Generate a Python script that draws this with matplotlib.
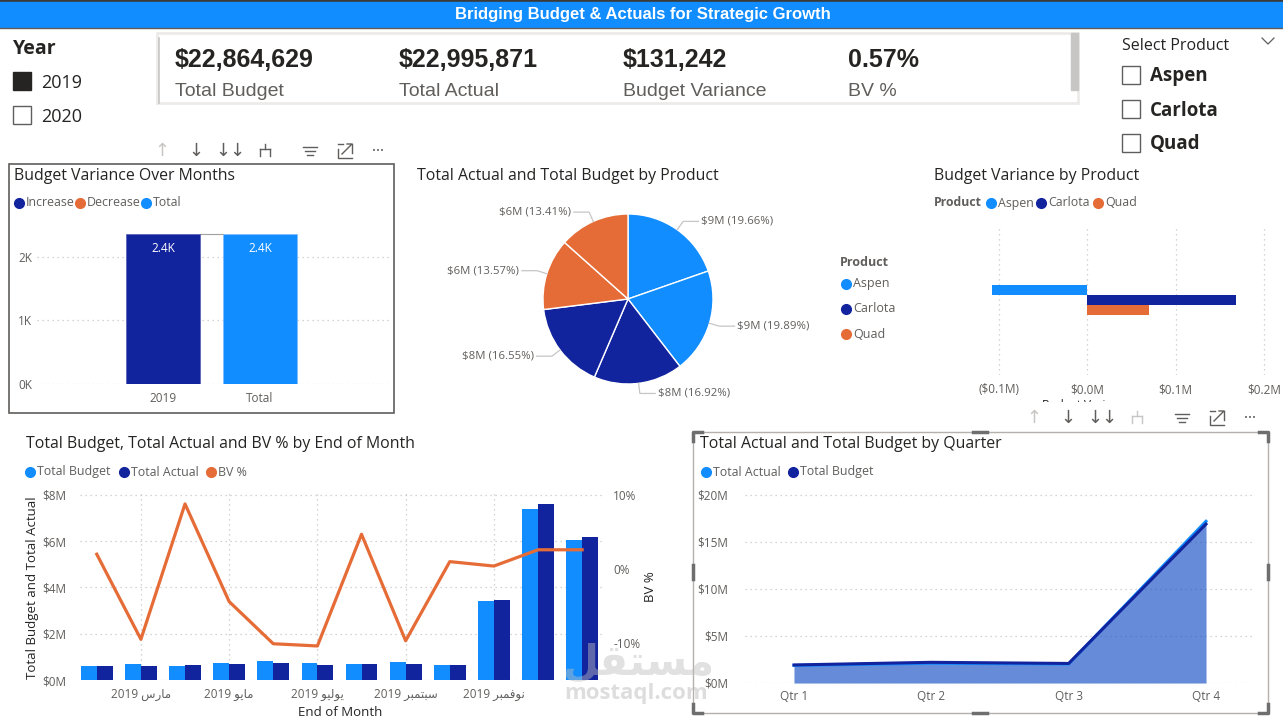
import matplotlib.pyplot as plt
import matplotlib.patches as mpatches
import numpy as np

W, H = 1283, 723

LIGHT = '#118DFF'
NAVY = '#12239E'
ORANGE = '#E66C37'
GREY = '#605E5C'
DARK = '#252423'
GRID = '#C8C6C4'

BODY = ['Open Sans', 'DejaVu Sans']
NARROW = ['Liberation Sans', 'DejaVu Sans']

# ---------------- data ----------------
kpi_values = ['$22,864,629', '$22,995,871', '$131,242', '0.57%']
kpi_labels = ['Total Budget', 'Total Actual', 'Budget Variance', 'BV %']
years = ['2019', '2020']
products = ['Aspen', 'Carlota', 'Quad']

# waterfall (budget variance over months)
wf_categories = ['2019', 'Total']
wf_values = [2360, 2360]
wf_labels = ['2.4K', '2.4K']

# pie: actual and budget by product
pie_products = ['Aspen', 'Aspen', 'Carlota', 'Carlota', 'Quad', 'Quad']
pie_pct = [19.66, 19.89, 16.92, 16.55, 13.57, 13.41]
pie_money = ['$9M', '$9M', '$8M', '$8M', '$6M', '$6M']

# budget variance by product ($)
bv_product = [-107000, 168000, 70000]

# monthly (values in $M, BV in %)
month_budget = [0.62, 0.69, 0.60, 0.72, 0.81, 0.72, 0.69, 0.76, 0.63, 3.42, 7.40, 6.07]
month_actual = [0.62, 0.59, 0.66, 0.69, 0.72, 0.63, 0.69, 0.69, 0.63, 3.44, 7.60, 6.20]
month_bv = [2.0, -9.5, 8.8, -4.4, -10.1, -10.4, 4.7, -9.7, 1.0, 0.4, 2.6, 2.6]
# Arabic month names written in presentation forms, visual order (no shaping in matplotlib)
month_ticks = [1, 3, 5, 7, 9]
month_tick_labels = ['2019 \uFEB1\uFEAD\uFE8E\uFEE3',              # مارس
                     '2019 \uFEEE\uFEF3\uFE8E\uFEE3',              # مايو
                     '2019 \uFEEE\uFEF4\uFEDF\uFEEE\uFEF3',        # يوليو
                     '2019 \uFEAE\uFE92\uFEE4\uFE98\uFE92\uFEB3',  # سبتمبر
                     '2019 \uFEAE\uFE92\uFEE4\uFED3\uFEEE\uFEE7']  # نوفمبر

# quarterly ($M)
quarters = ['Qtr 1', 'Qtr 2', 'Qtr 3', 'Qtr 4']
q_actual = [1.87, 2.10, 2.02, 17.2]
q_budget = [1.92, 2.20, 2.08, 16.9]


def box(x0, y0, x1, y1):
    return [x0 / W, 1 - y1 / H, (x1 - x0) / W, (y1 - y0) / H]


def style_axis(ax):
    for s in ax.spines.values():
        s.set_visible(False)
    ax.set_facecolor('none')
    ax.tick_params(length=0, colors=GREY, labelsize=8.5)
    for lab in ax.get_xticklabels() + ax.get_yticklabels():
        lab.set_family(BODY)


fig = plt.figure(figsize=(W / 100, H / 100), dpi=100)
fig.patch.set_facecolor('white')

# overlay in pixel coordinates for the dashboard furniture
ov = fig.add_axes([0, 0, 1, 1])
ov.set_xlim(0, W)
ov.set_ylim(H, 0)
ov.axis('off')

# header band
ov.add_patch(mpatches.Rectangle((0, 0), W, 2, color='#3B3A39'))
ov.add_patch(mpatches.Rectangle((0, 2), W, 25, color=LIGHT))
ov.plot([0, W], [27.5, 27.5], color='#605E5C', lw=1)
ov.text(643, 14, 'Bridging Budget & Actuals for Strategic Growth', color='white',
        fontsize=12, fontweight='bold', family=NARROW, ha='center', va='center')

# year slicer
ov.text(13, 49, 'Year', fontsize=14, fontweight='bold', family=BODY, color=DARK, va='center')
for i, yr in enumerate(years):
    yc = 81 + i * 34
    ov.add_patch(mpatches.Rectangle((13, yc - 9), 18, 18, facecolor=DARK if i == 0 else 'white',
                                    edgecolor=DARK if i == 0 else '#605E5C', lw=1))
    ov.text(41, yc + 1.5, yr, fontsize=13, family=BODY, color=DARK, va='center')

# KPI card
ov.add_patch(mpatches.Rectangle((157, 33), 921, 70, facecolor='white', edgecolor='#EDEBE9', lw=2))
ov.plot([158.5, 158.5], [38, 103], color='#C8C6C4', lw=1.2)
ov.add_patch(mpatches.Rectangle((1071, 33), 7, 57, color='#C8C6C4'))
for i, (v, lab) in enumerate(zip(kpi_values, kpi_labels)):
    x = [175, 399, 623, 848][i]
    ov.text(x, 60, v, fontsize=18, fontweight='bold', family=NARROW, color=DARK, va='center')
    ov.text(x, 91, lab, fontsize=14, family=NARROW, color=GREY, va='center')

# product slicer
ov.text(1122, 46, 'Select Product', fontsize=11.5, family=BODY, color=DARK, va='center')
ov.plot([1262, 1268, 1274], [38, 44, 38], color=GREY, lw=0.9)
for i, p in enumerate(products):
    yc = 75 + i * 34
    ov.add_patch(mpatches.Rectangle((1122, yc - 9), 18, 18, facecolor='white', edgecolor='#605E5C', lw=1))
    ov.text(1150, yc + 1.5, p, fontsize=13.5, fontweight='bold', family=BODY, color=DARK, va='center')


def icon_row(x0, y, fork_light=False):
    c_dis, c = '#C8C6C4', GREY
    ov.text(x0, y, '\u2191', fontsize=13, color=c_dis, ha='center', va='center', family='DejaVu Sans')
    ov.text(x0 + 34, y, '\u2193', fontsize=13, color=c, ha='center', va='center', family='DejaVu Sans')
    ov.text(x0 + 68, y, '\u2193\u2193', fontsize=13, color=c, ha='center', va='center', family='DejaVu Sans')
    fc = c_dis if fork_light else c
    fx = x0 + 103
    ov.plot([fx, fx], [y - 7, y - 2], color=fc, lw=1)
    ov.plot([fx - 5, fx + 5], [y - 2, y - 2], color=fc, lw=1)
    ov.plot([fx - 5, fx - 5], [y - 2, y + 5], color=fc, lw=1)
    ov.plot([fx + 5, fx + 5], [y - 2, y + 5], color=fc, lw=1)
    ox = x0 + 148
    for k, hw in enumerate([7, 5, 3]):
        ov.plot([ox - hw, ox + hw], [y - 4 + k * 4, y - 4 + k * 4], color=c, lw=1)
    ex = x0 + 183
    ov.plot([ex - 7, ex - 7, ex + 7], [y - 2, y + 7, y + 7], color=c, lw=1)
    ov.plot([ex - 2, ex - 7], [y - 7, y - 7], color=c, lw=1)
    ov.plot([ex + 7, ex + 7], [y + 2, y - 7], color=c, lw=1)
    ov.plot([ex - 3, ex + 7, ex + 2], [y + 3, y - 7, y - 7], color=c, lw=1)
    ov.text(x0 + 216, y, '\u2022\u2022\u2022', fontsize=5, color=c, ha='center', va='center')


icon_row(162, 151)
icon_row(1034, 418, fork_light=True)


def legend(items, y, xs, title=None, title_x=None):
    if title:
        ov.text(title_x, y, title, fontsize=8.8, fontweight='bold', family=BODY, color=GREY, va='center')
    for (lab, col), x in zip(items, xs):
        ov.plot(x, y, 'o', color=col, ms=7)
        ov.text(x + 7, y, lab, fontsize=8.9, family=BODY, color=GREY, va='center')


def title(x, y, text):
    ov.text(x, y + 1.5, text, fontsize=11.4, family=BODY, color=DARK, va='center')


# ---------------- waterfall ----------------
ov.add_patch(mpatches.Rectangle((9, 164), 385, 249, fill=False, edgecolor='#605E5C', lw=1.2))
title(14, 175, 'Budget Variance Over Months')
legend([('Increase', NAVY), ('Decrease', ORANGE), ('Total', LIGHT)], 203, [19, 80, 146])

ax = fig.add_axes(box(37, 225, 390, 384))
wx = np.arange(len(wf_categories))
ax.bar(wx, wf_values, width=0.76, color=[NAVY, LIGHT], edgecolor=['#5B66B8', '#7FBFFF'], lw=0.6, zorder=3)
ax.plot([wx[0] + 0.38, wx[1] - 0.38], [wf_values[0], wf_values[0]], color='#A0A0A0', lw=0.8, zorder=2)
for xi, v, lab in zip(wx, wf_values, wf_labels):
    ax.text(xi, v - 230, lab, color='white', fontsize=8.5, ha='center', va='center', family=BODY, zorder=4)
ax.set_xlim(-1.3, 2.34)
ax.set_ylim(0, 2500)
ax.set_yticks([0, 1000, 2000])
ax.set_yticklabels(['0K', '1K', '2K'])
ax.set_xticks(wx)
ax.set_xticklabels(wf_categories)
ax.yaxis.grid(True, color=GRID, ls=(0, (1, 3)), lw=0.9)
ax.set_axisbelow(True)
style_axis(ax)
ax.tick_params(axis='x', pad=6)

# ---------------- pie ----------------
title(417, 175, 'Total Actual and Total Budget by Product')
pie_colors = {'Aspen': LIGHT, 'Carlota': NAVY, 'Quad': ORANGE}
pax = fig.add_axes(box(543, 214, 713, 384))
wedges, _ = pax.pie(pie_pct, colors=[pie_colors[p] for p in pie_products], startangle=90,
                    counterclock=False, wedgeprops=dict(edgecolor='white', lw=1))
pax.set_xlim(-1, 1)
pax.set_ylim(-1, 1)
pax.set_aspect('equal')
for w, pct, m in zip(wedges, pie_pct, pie_money):
    ang = np.deg2rad((w.theta1 + w.theta2) / 2)
    c, s = np.cos(ang), np.sin(ang)
    sign = 1 if c >= 0 else -1
    p2 = (1.12 * c, 1.12 * s)
    p3 = (p2[0] + sign * 0.18, p2[1])
    pax.plot([c, p2[0], p3[0]], [s, p2[1], p3[1]], color='#C8C6C4', lw=0.9, clip_on=False)
    pax.text(p3[0] + sign * 0.03, p3[1], f'{m} ({pct:.2f}%)', fontsize=8.2, color=GREY, family=BODY,
             ha='left' if sign > 0 else 'right', va='center', clip_on=False)
ov.text(840, 262, 'Product', fontsize=9, fontweight='bold', family=BODY, color=GREY, va='center')
for i, p in enumerate(products):
    yy = 284 + i * 25
    ov.plot(846, yy, 'o', color=pie_colors[p], ms=7)
    ov.text(853, yy, p, fontsize=9, family=BODY, color=GREY, va='center')

# ---------------- budget variance by product ----------------
title(934, 175, 'Budget Variance by Product')
legend([(p, pie_colors[p]) for p in products], 203, [991, 1041, 1098], title='Product', title_x=934)
bax = fig.add_axes(box(975, 225, 1275, 375))
bh = 0.066
offs = np.array([1, 0, -1]) * bh
bax.barh(offs, bv_product, height=bh * 0.97, color=[pie_colors[p] for p in products], zorder=3)
bax.set_ylim(-0.5, 0.5)
bax.set_xlim(-126600, 212400)
bax.set_xticks([-100000, 0, 100000, 200000])
bax.set_xticklabels(['($0.1M)', '$0.0M', '$0.1M', '$0.2M'])
bax.set_yticks([])
bax.xaxis.grid(True, color=GRID, ls=(0, (1, 3)), lw=0.9)
bax.set_axisbelow(True)
style_axis(bax)
bax.tick_params(axis='x', pad=6)
# axis title is cut off by the visual's bottom edge in the original
t = ov.text(1087, 405, 'Budget Variance', fontsize=8.5, family=BODY, color=DARK, ha='center', va='center')
t.set_clip_path(mpatches.Rectangle((960, 380), 320, 22, transform=ov.transData))
t.set_clip_on(True)

# ---------------- monthly combo ----------------
title(26, 442, 'Total Budget, Total Actual and BV % by End of Month')
legend([('Total Budget', LIGHT), ('Total Actual', NAVY), ('BV %', ORANGE)], 472, [30, 124, 211])
max_ = fig.add_axes(box(80, 490, 602, 680))
mx = np.arange(len(month_budget))
bw = 0.36
max_.bar(mx - bw / 2, month_budget, bw, color=LIGHT, zorder=3)
max_.bar(mx + bw / 2, month_actual, bw, color=NAVY, zorder=3)
max_.set_xlim(-0.38, 11.45)
max_.set_ylim(0, 8.216)
max_.set_yticks([0, 2, 4, 6, 8])
max_.set_yticklabels(['$0M', '$2M', '$4M', '$6M', '$8M'])
max_.set_xticks(month_ticks)
max_.set_xticklabels(month_tick_labels)
max_.grid(True, color=GRID, ls=(0, (1, 3)), lw=0.9)
max_.set_axisbelow(True)
style_axis(max_)
max_.tick_params(axis='x', pad=6)
max_.tick_params(axis='y', pad=10)
mx2 = max_.twinx()
mx2.plot(mx, month_bv, color=ORANGE, lw=2.3, zorder=5)
mx2.set_ylim(-15.0, 10.68)
mx2.set_yticks([-10, 0, 10])
mx2.set_yticklabels(['-10%', '0%', '10%'])
style_axis(mx2)
mx2.tick_params(axis='y', pad=8)
ov.text(33, 588, 'Total Budget and Total Actual', rotation=90, fontsize=9.5, family=BODY, color=DARK,
        ha='center', va='center')
ov.text(651, 587, 'BV %', rotation=90, fontsize=9.5, family=BODY, color=DARK, ha='center', va='center')
ov.text(340, 712, 'End of Month', fontsize=9.5, family=BODY, color=DARK, ha='center', va='center')

# ---------------- quarterly area ----------------
ov.add_patch(mpatches.Rectangle((693, 432), 575, 281, fill=False, edgecolor='#B3B0AD', lw=1))
for (cx, cy, dx, dy) in [(693, 432, 1, 1), (1268, 432, -1, 1), (693, 713, 1, -1), (1268, 713, -1, -1)]:
    ov.plot([cx + dx * 9, cx, cx], [cy, cy, cy + dy * 9], color='#6E6E6E', lw=2.5)
for (cx, cy, horiz) in [(980, 432, True), (980, 713, True), (693, 572, False), (1268, 572, False)]:
    if horiz:
        ov.plot([cx - 7, cx + 7], [cy, cy], color='#6E6E6E', lw=2.5)
    else:
        ov.plot([cx, cx], [cy - 7, cy + 7], color='#6E6E6E', lw=2.5)
title(700, 442, 'Total Actual and Total Budget by Quarter')
legend([('Total Actual', LIGHT), ('Total Budget', NAVY)], 472, [706, 793])
qax = fig.add_axes(box(745, 488, 1255, 683))
qx = np.arange(len(quarters))
qa = np.array(q_actual) * 1e6
qb = np.array(q_budget) * 1e6
qax.fill_between(qx, qa, color=LIGHT, alpha=0.4, lw=0, zorder=2)
qax.fill_between(qx, qb, color=NAVY, alpha=0.4, lw=0, zorder=2)
qax.plot(qx, qa, color=LIGHT, lw=2.2, zorder=3)
qax.plot(qx, qb, color=NAVY, lw=2.2, zorder=4)
qax.set_xlim(-0.357, 3.357)
qax.set_ylim(0, 20.74e6)
qax.set_yticks([0, 5e6, 10e6, 15e6, 20e6])
qax.set_yticklabels(['$0M', '$5M', '$10M', '$15M', '$20M'])
qax.set_xticks(qx)
qax.set_xticklabels(quarters)
qax.yaxis.grid(True, color=GRID, ls=(0, (1, 3)), lw=0.9)
qax.set_axisbelow(True)
style_axis(qax)
qax.tick_params(axis='x', pad=5)
qax.tick_params(axis='y', pad=12)

# watermark
ov.text(638, 662, '\uFEDE\uFED8\uFE98\uFEB4\uFEE3', fontsize=30, fontweight='bold', family='DejaVu Sans',
        color='#BDBDBD', alpha=0.45, ha='center', va='center', zorder=10)
ov.text(636, 694, 'mostaql.com', fontsize=16, fontweight='bold', family=BODY,
        color='#BDBDBD', alpha=0.5, ha='center', va='center', zorder=10)
ov.set_zorder(5)
ov.patch.set_visible(False)

fig.savefig('out.png', dpi=100)
